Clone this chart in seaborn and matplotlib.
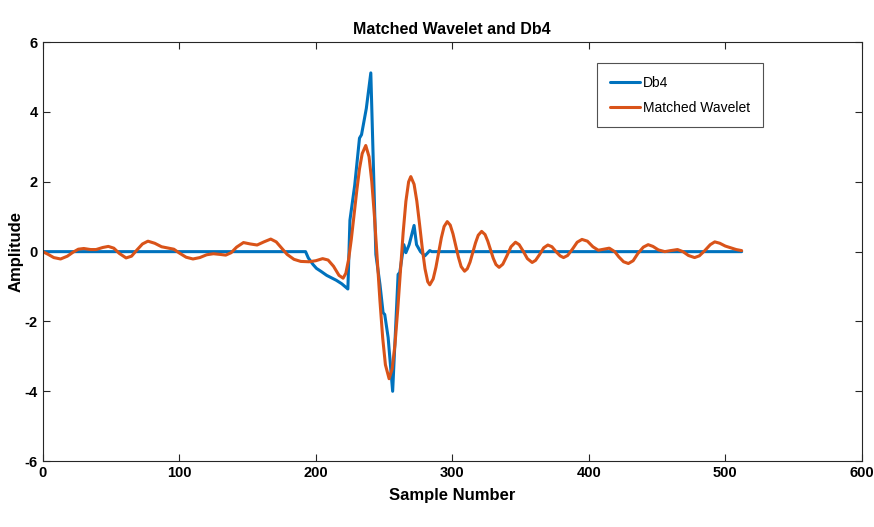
import matplotlib
matplotlib.use("Agg")
import matplotlib.pyplot as plt
import numpy as np
import pandas as pd
import seaborn as sns

# Db4 wavelet (sample, amplitude)
db4_x = [0, 192.5, 194.5, 198, 200.5, 204, 208, 212, 215, 219, 223.5,
         225, 228.5, 232, 233.5, 237, 240.3, 244, 247, 249.3, 250.5, 253,
         256.3, 258.6, 260.3, 261.5, 264.5, 266, 268.4, 272, 273.8, 276.7,
         279.9, 283.5, 285, 512]
db4_y = [0, 0, -0.18, -0.37, -0.48, -0.57, -0.68, -0.76, -0.82, -0.92, -1.07,
         0.9, 1.9, 3.25, 3.35, 4.1, 5.12, -0.08, -0.94, -1.75, -1.8, -2.46,
         -4.0, -2.08, -0.65, -0.6, 0.2, -0.03, 0.2, 0.75, 0.2, 0.0,
         -0.12, 0.03, 0.0, 0.0]

# Matched wavelet
mw_x = [0, 4, 8, 13, 18, 22, 26, 30, 35, 39, 44, 48, 52, 56, 61, 65, 69, 73,
        77, 82, 87, 92, 96, 100, 105, 110, 115, 120, 125, 130, 134, 138, 142,
        147, 152, 157, 162, 167, 171, 175, 179, 184, 189, 195, 200, 205, 209,
        213, 217, 220, 222, 224, 226, 228, 230, 232, 234, 236.6, 239, 241, 243,
        245, 247, 249, 251, 253.7, 256, 258, 260, 262, 264, 266, 268, 269.6,
        272, 274, 276, 278, 280, 282, 283.5, 286, 288, 290, 292, 294, 296.3,
        298.5, 300.5, 302.5, 304.5, 306.5, 309, 311, 313, 315, 317, 319, 321.5,
        324, 326, 328, 330, 332, 334.3, 337, 340, 343, 346.3, 349, 352, 355,
        358.5, 361, 364, 367, 370, 373, 376, 379, 381.5, 384.5, 388, 391.5, 395,
        399, 403, 407, 411, 415, 419, 422, 425.5, 429, 432.5, 436, 440, 443.5,
        447, 451, 455.7, 460, 465, 469, 473, 477.5, 481, 485, 489, 492.3, 496,
        500, 504, 508, 512]
mw_y = [0, -0.08, -0.17, -0.21, -0.13, -0.02, 0.07, 0.09, 0.06, 0.06, 0.12,
        0.15, 0.1, -0.05, -0.18, -0.13, 0.05, 0.22, 0.3, 0.24, 0.14, 0.1, 0.07,
        -0.04, -0.16, -0.21, -0.17, -0.09, -0.06, -0.08, -0.1, -0.03, 0.13,
        0.26, 0.22, 0.19, 0.28, 0.36, 0.28, 0.1, -0.08, -0.22, -0.28, -0.29,
        -0.26, -0.2, -0.24, -0.42, -0.68, -0.76, -0.62, -0.23, 0.35, 1.04, 1.74,
        2.37, 2.81, 3.04, 2.72, 2.01, 0.99, -0.21, -1.41, -2.47, -3.24, -3.64,
        -3.35, -2.66, -1.67, -0.55, 0.55, 1.44, 2.0, 2.15, 1.93, 1.45, 0.79,
        0.1, -0.49, -0.86, -0.95, -0.78, -0.45, -0.02, 0.4, 0.72, 0.86, 0.76,
        0.51, 0.18, -0.16, -0.43, -0.56, -0.49, -0.3, -0.03, 0.25, 0.47, 0.58,
        0.49, 0.3, 0.05, -0.19, -0.37, -0.45, -0.36, -0.12, 0.14, 0.27, 0.2,
        0.01, -0.2, -0.31, -0.25, -0.08, 0.11, 0.19, 0.14, 0.0, -0.12, -0.17,
        -0.11, 0.07, 0.27, 0.35, 0.3, 0.14, 0.04, 0.07, 0.1, 0.0, -0.15, -0.29,
        -0.34, -0.26, -0.05, 0.13, 0.2, 0.15, 0.05, 0.0, 0.03, 0.06, 0.0,
        -0.11, -0.17, -0.12, 0.03, 0.2, 0.28, 0.24, 0.16, 0.11, 0.06, 0.03]

labels = ["Db4", "Matched Wavelet"]
colors = ["#0072BD", "#D95319"]

df = pd.concat([
    pd.DataFrame({"x": db4_x, "y": db4_y, "series": labels[0]}),
    pd.DataFrame({"x": mw_x, "y": mw_y, "series": labels[1]}),
], ignore_index=True)

sns.set_style("ticks")
plt.rcParams["font.family"] = ["Liberation Sans", "DejaVu Sans"]
plt.rcParams["axes.unicode_minus"] = False
plt.rcParams["text.color"] = "black"
plt.rcParams["axes.labelcolor"] = "black"

fig = plt.figure(figsize=(8.74, 5.27), dpi=100)
ax = fig.add_axes([0.049, 0.125, 0.937, 0.795])

sns.lineplot(data=df, x="x", y="y", hue="series", palette=colors,
             estimator=None, sort=False, lw=2.2, ax=ax)
for line in ax.get_lines():
    line.set_solid_joinstyle("round")

ax.set_xlim(0, 600)
ax.set_ylim(-6, 6)
ax.set_xticks(range(0, 601, 100))
ax.set_yticks(range(-6, 7, 2))
ax.tick_params(direction="in", top=True, right=True, length=5,
               width=0.8, colors="#262626", labelsize=10.5)
for t in ax.get_xticklabels() + ax.get_yticklabels():
    t.set_fontweight("bold")
    t.set_color("black")
for s in ax.spines.values():
    s.set_visible(True)
    s.set_color("#262626")
    s.set_linewidth(0.8)

ax.set_title("Matched Wavelet and Db4", fontsize=11.5, fontweight="bold", pad=6)
ax.set_xlabel("Sample Number", fontsize=12, fontweight="bold", labelpad=6)
ax.set_ylabel("Amplitude", fontsize=12, fontweight="bold")
ax.yaxis.set_label_coords(-0.024, 0.5)

leg = ax.legend(loc="upper right", bbox_to_anchor=(0.879, 0.95),
                borderaxespad=0, fontsize=10, frameon=True, fancybox=False,
                handlelength=2.2, borderpad=0.9, labelspacing=0.8,
                handletextpad=0.2)
leg.get_frame().set_edgecolor("#262626")
leg.get_frame().set_linewidth(0.8)
for line in leg.get_lines():
    line.set_linewidth(2.2)

fig.savefig("out.png", dpi=100)
